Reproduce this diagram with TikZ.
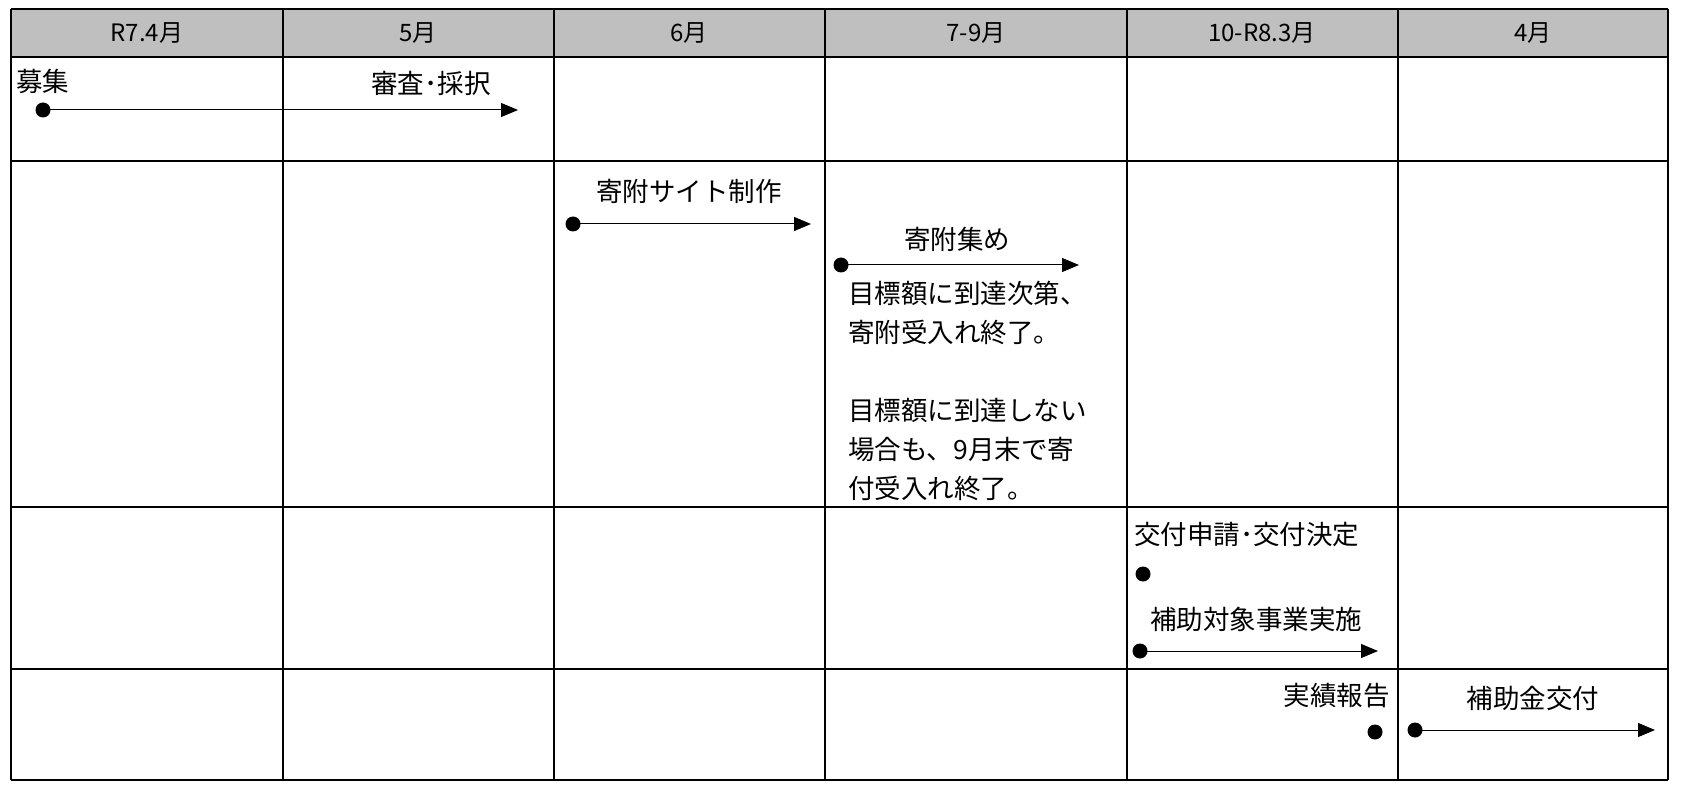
\documentclass[tikz,border=0pt]{standalone}
\usepackage{fontspec}
\setmainfont{Noto Sans CJK JP}
\usepackage{tikz}
\usetikzlibrary{arrows.meta}

\begin{document}
\begin{tikzpicture}[x=1pt,y=-1pt]
		\tikzset{cell/.style={draw, line width=1.1pt}}
		\tikzset{head/.style={font=\fontsize{24}{28}\selectfont, inner sep=0}}
		\tikzset{label/.style={font=\fontsize{26.5}{32}\selectfont, inner sep=0}}
		\tikzset{dot/.style={shape = circle, fill, inner sep=0, minimum size = 15pt}}
		\tikzset{arr/.style={line width=1pt, -{Triangle[length=17pt,width=14pt]}}}
		\useasboundingbox (0,0) rectangle (1681,794);
		%table
		\fill[gray!50] (11,9) rectangle (1668,57);
		\foreach \y in {9,57,161,507,669,780}
			\draw[cell] (11,\y) -- (1668,\y);
		\foreach \x in {11,283,554,825,1127,1398,1668}
			\draw[cell] (\x,9) -- (\x,780);
		%months
		\node[head] (m1) at (147,33) {R7.4月};
		\node[head] (m2) at (418,33) {5月};
		\node[head] (m3) at (689,33) {6月};
		\node[head] (m4) at (976,33) {7-9月};
		\node[head] (m5) at (1262,33) {10-R8.3月};
		\node[head] (m6) at (1533,33) {4月};
		%labels
		\node[label, anchor=west] (boshu) at (16,81) {募集};
		\node[label] (shinsa) at (431,83) {審査･採択};
		\node[label] (site) at (689,191) {寄附サイト制作};
		\node[label] (kifu) at (957,239) {寄附集め};
		\node[label, anchor=north west, align=left,
			font=\fontsize{26.5}{39}\selectfont] (note) at (848,281)
			{目標額に到達次第、\\寄附受入れ終了。\\[39pt]目標額に到達しない\\場合も、9月末で寄\\付受入れ終了。};
		\node[label, anchor=west] (kofu) at (1134,534) {交付申請･交付決定};
		\node[label] (hojo) at (1256,619) {補助対象事業実施};
		\node[label, anchor=east] (jisseki) at (1390,696) {実績報告};
		\node[label] (kin) at (1533,698) {補助金交付};
		%dots
		\node[dot] (d1) at (43,110) {};
		\node[dot] (d2) at (573,224) {};
		\node[dot] (d3) at (841,265) {};
		\node[dot] (d4) at (1143,574) {};
		\node[dot] (d5) at (1140,651) {};
		\node[dot] (d6) at (1375,732) {};
		\node[dot] (d7) at (1415,730) {};
		\coordinate (e1) at (518,110);
		\coordinate (e2) at (811,224);
		\coordinate (e3) at (1079,265);
		\coordinate (e5) at (1378,651);
		\coordinate (e7) at (1655,730);
		%arrows
		\draw[arr] (d1.center) -- (e1);
		\draw[arr] (d2.center) -- (e2);
		\draw[arr] (d3.center) -- (e3);
		\draw[arr] (d5.center) -- (e5);
		\draw[arr] (d7.center) -- (e7);
\end{tikzpicture}
\end{document}
